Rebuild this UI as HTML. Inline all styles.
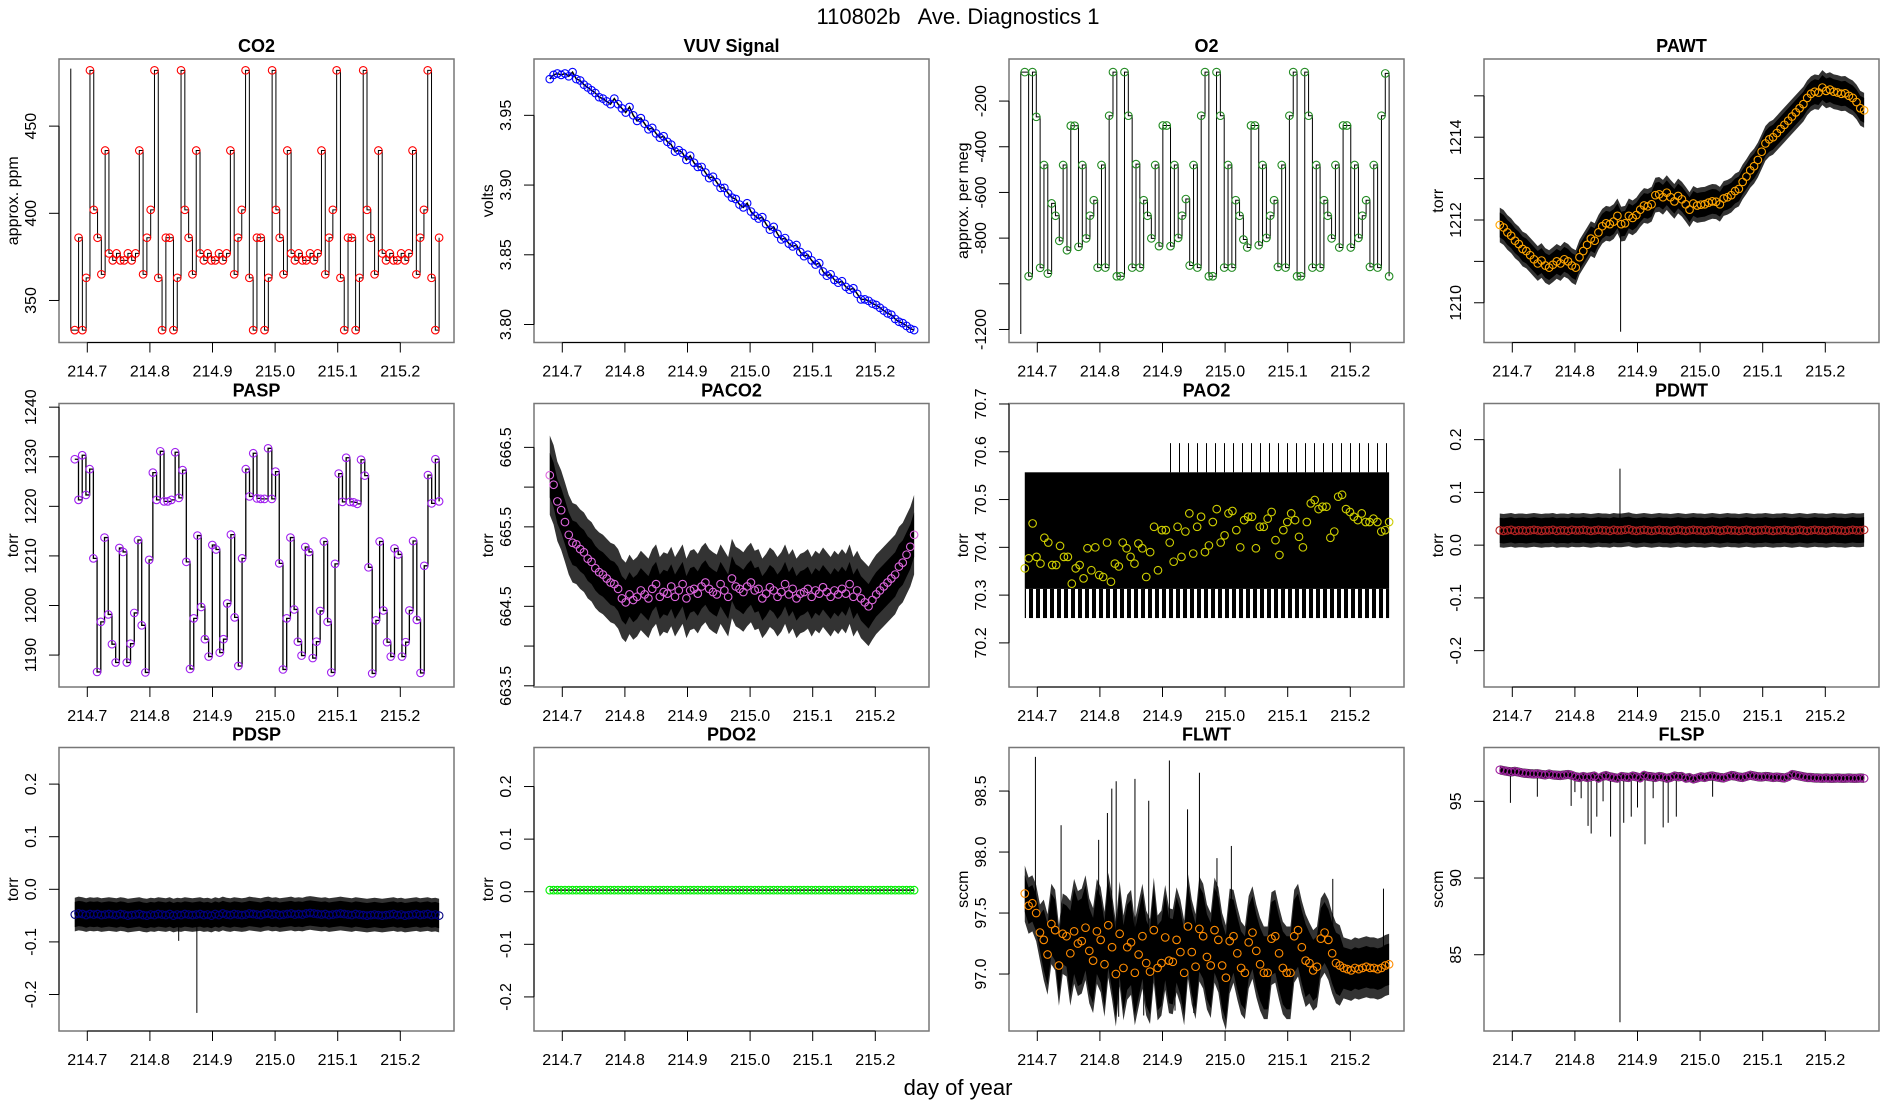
<!DOCTYPE html>
<html><head><meta charset="utf-8"><title>110802b Ave. Diagnostics 1</title>
<style>html,body{margin:0;padding:0;background:#fff}svg{display:block;font-family:"Liberation Sans",Arial,sans-serif}</style>
</head><body>
<svg id="chart" width="1900" height="1100" viewBox="0 0 1900 1100" xmlns="http://www.w3.org/2000/svg">
<text x="958" y="24" font-size="22" text-anchor="middle" xml:space="preserve">110802b   Ave. Diagnostics 1</text>
<text x="958" y="1095" font-size="22" text-anchor="middle">day of year</text>
</svg>
<script>
// ---------- data ----------
const dayStart = 214.680;
const dayEnd = 215.262;
const xTicks = [214.7, 214.8, 214.9, 215.0, 215.1, 215.2];
const xTickLabels = ["214.7","214.8","214.9","215.0","215.1","215.2"];

const co2Vals = [333,386,333,363,482,402,386,365,436,377,373,377,373,373,377,373,377,436,365,386,402,482,363,333,386,386,333,363,482,402,386,365,436,377,373,377,373,373,377,373,377,436,365,386,402,482,363,333,386,386,333,363,482,402,386,365,436,377,373,377,373,373,377,373,377,436,365,386,402,482,363,333,386,386,333,363,482,402,386,365,436,377,373,377,373,373,377,373,377,436,365,386,402,482,363,333,386];
const co2Start = 483;

const vuvVals = [3.976,3.979,3.980,3.979,3.980,3.978,3.981,3.976,3.975,3.972,3.970,3.968,3.966,3.963,3.962,3.960,3.958,3.962,3.958,3.955,3.952,3.956,3.950,3.946,3.948,3.944,3.940,3.941,3.937,3.934,3.935,3.931,3.929,3.924,3.925,3.923,3.918,3.921,3.916,3.913,3.913,3.909,3.905,3.906,3.902,3.898,3.898,3.894,3.891,3.890,3.886,3.884,3.887,3.881,3.878,3.876,3.877,3.872,3.868,3.870,3.865,3.861,3.862,3.858,3.856,3.857,3.852,3.849,3.850,3.846,3.843,3.844,3.838,3.835,3.836,3.832,3.830,3.831,3.827,3.825,3.826,3.822,3.818,3.818,3.817,3.815,3.814,3.812,3.810,3.808,3.807,3.804,3.802,3.801,3.799,3.797,3.796];

const o2Vals = [-73,-967,-73,-269,-930,-480,-955,-648,-702,-812,-480,-853,-308,-308,-838,-480,-801,-702,-634,-929,-480,-929,-264,-73,-967,-967,-73,-264,-929,-476,-929,-634,-702,-801,-480,-835,-307,-307,-835,-480,-799,-702,-629,-920,-480,-929,-264,-73,-967,-967,-73,-264,-929,-480,-929,-634,-702,-806,-841,-307,-307,-831,-480,-799,-702,-634,-926,-480,-929,-264,-73,-967,-967,-73,-264,-929,-480,-929,-634,-702,-801,-480,-841,-307,-307,-841,-480,-799,-702,-634,-926,-480,-929,-264,-79,-967];
const o2Start = -1220;

const pawtVals = [1211.88,1211.82,1211.7,1211.62,1211.5,1211.42,1211.3,1211.25,1211.15,1211.05,1210.95,1211.02,1210.9,1210.85,1210.92,1211.0,1210.95,1211.05,1211.0,1210.9,1210.85,1211.1,1211.25,1211.4,1211.55,1211.5,1211.7,1211.85,1211.92,1211.9,1211.96,1212.1,1211.9,1211.92,1212.1,1212.05,1212.12,1212.25,1212.35,1212.33,1212.38,1212.6,1212.62,1212.55,1212.66,1212.55,1212.45,1212.58,1212.5,1212.38,1212.25,1212.4,1212.35,1212.37,1212.38,1212.42,1212.45,1212.44,1212.38,1212.52,1212.55,1212.6,1212.7,1212.75,1212.92,1213.05,1213.2,1213.3,1213.45,1213.65,1213.85,1213.95,1214.0,1214.1,1214.2,1214.3,1214.4,1214.5,1214.6,1214.7,1214.8,1214.95,1215.05,1215.1,1215.08,1215.2,1215.12,1215.15,1215.1,1215.08,1215.05,1215.06,1215.0,1214.95,1214.85,1214.7,1214.65];
const pawtSpikeDays = [214.873];
const pawtSpikeVals = [1209.3];

const paspVals = [1229.5,1221.3,1230.3,1222.3,1227.5,1209.5,1186.6,1196.7,1213.7,1198.2,1192.2,1188.5,1211.6,1210.8,1188.5,1192.3,1198.5,1213.2,1196.0,1186.5,1209.2,1226.8,1221.3,1231.1,1221.0,1221.0,1221.3,1230.9,1221.7,1227.3,1208.8,1187.2,1197.4,1214.1,1199.7,1193.2,1189.7,1212.2,1211.3,1190.5,1193.2,1200.4,1214.3,1197.6,1187.8,1209.5,1227.5,1222.0,1230.7,1221.6,1221.5,1221.5,1231.7,1221.5,1227.0,1208.5,1187.1,1197.4,1213.7,1199.2,1192.7,1189.9,1211.8,1210.8,1189.4,1192.7,1198.9,1212.9,1196.7,1186.5,1208.4,1226.6,1220.9,1229.8,1220.9,1220.8,1220.5,1229.4,1226.2,1207.7,1186.3,1197.0,1212.9,1199.0,1192.6,1189.7,1211.5,1210.3,1189.7,1192.6,1199.0,1213.0,1197.1,1186.4,1208.0,1226.3,1220.6,1229.5,1221.0];

const paco2Vals = [666.15,666.03,665.82,665.71,665.56,665.4,665.3,665.28,665.22,665.18,665.1,665.06,664.98,664.93,664.9,664.85,664.8,664.78,664.72,664.6,664.55,664.65,664.58,664.62,664.7,664.65,664.6,664.72,664.78,664.62,664.68,664.66,664.75,664.62,664.7,664.78,664.6,664.7,664.72,664.66,664.75,664.8,664.72,664.68,664.65,664.78,664.7,664.62,664.85,664.75,664.72,664.68,664.75,664.8,664.7,664.72,664.6,664.66,664.74,664.7,664.62,664.68,664.78,664.65,664.72,664.6,664.66,664.68,664.72,664.62,664.7,664.66,664.74,664.68,664.62,664.7,664.65,664.72,664.66,664.78,664.62,664.7,664.6,664.55,664.5,664.58,664.65,664.7,664.75,664.8,664.85,664.9,665.0,665.05,665.15,665.25,665.4];

const pao2Vals = [70.356,70.377,70.45,70.38,70.366,70.42,70.41,70.363,70.363,70.403,70.38,70.38,70.324,70.356,70.363,70.335,70.398,70.352,70.40,70.342,70.338,70.41,70.328,70.366,70.36,70.41,70.398,70.38,70.366,70.408,70.398,70.338,70.39,70.443,70.352,70.436,70.436,70.41,70.37,70.443,70.38,70.433,70.471,70.387,70.443,70.464,70.39,70.404,70.453,70.48,70.41,70.425,70.471,70.476,70.436,70.40,70.457,70.464,70.464,70.398,70.443,70.443,70.46,70.474,70.415,70.384,70.436,70.453,70.471,70.457,70.422,70.40,70.453,70.492,70.499,70.48,70.485,70.485,70.42,70.433,70.506,70.51,70.48,70.474,70.464,70.457,70.471,70.453,70.453,70.46,70.453,70.433,70.436,70.453];
const pao2Levels = [70.252, 70.313, 70.557, 70.618];

const pdwtVals = [.028,.027,.028,.029,.027,.028,.028,.027,.028,.029,.028,.027,.028,.028,.029,.027,.028,.028,.027,.029,.028,.028,.029,.028,.027,.028,.029,.028,.028,.027,.029,.028,.028,.029,.030,.028,.027,.028,.029,.028,.027,.028,.029,.028,.028,.027,.028,.029,.028,.027,.028,.029,.028,.028,.027,.028,.029,.028,.027,.028,.029,.028,.028,.027,.028,.029,.028,.027,.028,.028,.029,.028,.027,.028,.028,.029,.028,.027,.028,.029,.028,.027,.028,.029,.028,.028,.027,.028,.029,.028,.028,.027,.028,.029,.028,.028,.029];
const pdwtSpikeDays = [214.872];
const pdwtSpikeVals = [0.145];

const pdspVals = [-.048,-.046,-.047,-.049,-.047,-.048,-.047,-.049,-.048,-.047,-.048,-.049,-.047,-.048,-.050,-.049,-.048,-.047,-.049,-.050,-.048,-.049,-.047,-.048,-.049,-.047,-.050,-.048,-.049,-.047,-.048,-.049,-.048,-.047,-.049,-.048,-.050,-.047,-.049,-.046,-.048,-.049,-.047,-.048,-.049,-.048,-.046,-.047,-.048,-.049,-.047,-.046,-.048,-.047,-.049,-.048,-.047,-.046,-.048,-.047,-.048,-.046,-.045,-.046,-.047,-.048,-.047,-.049,-.048,-.047,-.046,-.047,-.048,-.049,-.047,-.048,-.049,-.050,-.049,-.048,-.049,-.050,-.049,-.048,-.047,-.049,-.048,-.050,-.049,-.048,-.047,-.049,-.048,-.047,-.049,-.048,-.050];
const pdspSpikeDays = [214.875, 214.846];
const pdspSpikeVals = [-0.235, -0.098];

const pdo2Vals = [.003,.003,.003,.003,.003,.003,.003,.003,.003,.003,.003,.003,.003,.003,.003,.003,.003,.003,.003,.003,.003,.003,.003,.003,.003,.003,.003,.003,.003,.003,.003,.003,.003,.003,.003,.003,.003,.003,.003,.003,.003,.003,.003,.003,.003,.003,.003,.003,.003,.003,.003,.003,.003,.003,.003,.003,.003,.003,.003,.003,.003,.003,.003,.003,.003,.003,.003,.003,.003,.003,.003,.003,.003,.003,.003,.003,.003,.003,.003,.003,.003,.003,.003,.003,.003,.003,.003,.003,.003,.003,.003,.003,.003,.003,.003,.003,.003];

const flwtVals = [97.66,97.56,97.58,97.50,97.34,97.28,97.16,97.41,97.36,97.07,97.33,97.31,97.17,97.35,97.25,97.27,97.38,97.19,97.11,97.35,97.28,97.08,97.40,97.22,97.00,97.33,97.05,97.22,97.26,97.01,97.16,97.31,97.09,97.02,97.36,97.05,97.09,97.30,97.11,97.10,97.28,97.18,97.01,97.39,97.18,97.06,97.37,97.31,97.14,97.07,97.36,97.28,97.07,96.97,97.27,97.31,97.17,97.05,97.01,97.26,97.34,97.19,97.08,97.01,97.01,97.29,97.31,97.17,97.05,97.01,97.01,97.31,97.36,97.22,97.11,97.09,97.03,97.06,97.29,97.34,97.28,97.17,97.09,97.07,97.05,97.04,97.03,97.05,97.04,97.05,97.06,97.05,97.05,97.04,97.05,97.07,97.08];
const flwtSpread = [.15,.15,.15,.15,.15,.25,.25,.25,.25,.25,.25,.25,.35,.35,.35,.35,.35,.35,.35,.35,.35,.35,.35,.35,.35,.35,.35,.35,.35,.35,.35,.35,.35,.35,.35,.35,.35,.35,.35,.35,.35,.35,.35,.35,.35,.35,.35,.35,.35,.35,.35,.35,.35,.35,.35,.30,.30,.30,.30,.30,.30,.30,.30,.30,.30,.30,.30,.30,.30,.30,.30,.30,.30,.30,.30,.25,.25,.25,.25,.25,.25,.25,.25,.25,.17,.17,.17,.17,.17,.17,.17,.17,.17,.17,.17,.17,.17];
const flwtSpikeDays = [214.697,214.738,214.798,214.812,214.819,214.826,214.856,214.878,214.911,214.94,214.959,214.987,215.01,215.172,215.253,214.83,214.87,214.92,214.95];
const flwtSpikeVals = [98.78,98.22,98.1,98.32,98.52,98.58,98.6,98.42,98.75,98.35,98.65,97.95,98.05,97.78,97.7,96.65,96.66,96.7,96.68];

const flspVals = [97.05,97.0,96.95,96.92,96.95,96.9,96.85,96.82,96.8,96.78,96.8,96.75,96.72,96.78,96.72,96.7,96.68,96.72,96.75,96.7,96.6,96.55,96.62,96.55,96.6,96.65,96.5,96.62,96.68,96.6,96.55,96.5,96.62,96.58,96.55,96.65,96.6,96.52,96.7,96.62,96.6,96.55,96.62,96.58,96.5,96.55,96.65,96.6,96.62,96.5,96.55,96.45,96.52,96.6,96.55,96.62,96.65,96.6,96.55,96.52,96.6,96.68,96.65,96.58,96.55,96.62,96.7,96.65,96.6,96.58,96.62,96.6,96.55,96.58,96.55,96.52,96.6,96.75,96.7,96.65,96.6,96.55,96.55,96.52,96.52,96.5,96.52,96.5,96.5,96.52,96.5,96.5,96.52,96.5,96.5,96.52,96.5];
const flspSpikeDays = [214.697,214.74,214.794,214.80,214.81,214.821,214.826,214.835,214.845,214.857,214.872,214.878,214.89,214.9,214.912,214.925,214.941,214.949,214.962,215.02];
const flspSpikeVals = [94.9,95.3,94.7,95.6,95.2,93.4,92.9,94.0,95.0,92.7,80.6,93.6,94.0,94.6,92.2,95.2,93.3,93.6,94.0,95.3];

// ---------- layout ----------
const colLeft = [59, 534, 1009, 1484];
const rowTop = [59, 403.5, 747.5];
const PW = 395, PH = 283.5;
const NS = 'http://www.w3.org/2000/svg';
const svg = document.getElementById('chart');
function mk(tag, attrs, parent) {
  const e = document.createElementNS(NS, tag);
  for (const k in attrs) e.setAttribute(k, attrs[k]);
  (parent || svg).appendChild(e);
  return e;
}
function daysFor(vals) {
  const n = vals.length;
  return vals.map((v, i) => dayStart + i * (dayEnd - dayStart) / (n - 1));
}

const panels = [
  {key:'co2', title:'CO2', ylab:'approx. ppm', c:0, r:0, yTop:488.5, yBot:325.9, ticks:[350,400,450], labels:['350','400','450'], kind:'step', vals:co2Vals, start:co2Start, col:'#ff0000'},
  {key:'vuv', title:'VUV Signal', ylab:'volts', c:1, r:0, yTop:3.9904, yBot:3.7871, ticks:[3.80,3.85,3.90,3.95], labels:['3.80','3.85','3.90','3.95'], kind:'line', vals:vuvVals, col:'#0000ff'},
  {key:'o2', title:'O2', ylab:'approx. per meg', c:2, r:0, yTop:-15.8, yBot:-1257, ticks:[-1200,-1000,-800,-600,-400,-200], labels:['-1200','','-800','-600','-400','-200'], kind:'step', vals:o2Vals, start:o2Start, col:'#228b22'},
  {key:'pawt', title:'PAWT', ylab:'torr', c:3, r:0, yTop:1215.89, yBot:1209.04, ticks:[1210,1211,1212,1213,1214,1215], labels:['1210','','1212','','1214',''], kind:'band', vals:pawtVals, core:0.3, fringe:0.42, sd:pawtSpikeDays, sv:pawtSpikeVals, col:'#ffa500'},
  {key:'pasp', title:'PASP', ylab:'torr', c:0, r:1, yTop:1240.74, yBot:1183.56, ticks:[1190,1200,1210,1220,1230,1240], labels:['1190','1200','1210','1220','1230','1240'], kind:'stepline', vals:paspVals, col:'#a020f0'},
  {key:'paco2', title:'PACO2', ylab:'torr', c:1, r:1, yTop:667.052, yBot:663.485, ticks:[663.5,664,664.5,665,665.5,666,666.5], labels:['663.5','','664.5','','665.5','','666.5'], kind:'band', vals:paco2Vals, core:0.28, fringe:0.5, col:'#dd66dd'},
  {key:'pao2', title:'PAO2', ylab:'torr', c:2, r:1, yTop:70.701, yBot:70.1077, ticks:[70.2,70.3,70.4,70.5,70.6,70.7], labels:['70.2','70.3','70.4','70.5','70.6','70.7'], kind:'levels', vals:pao2Vals, levels:pao2Levels, col:'#cdcd00'},
  {key:'pdwt', title:'PDWT', ylab:'torr', c:3, r:1, yTop:0.2685, yBot:-0.2689, ticks:[-0.2,-0.1,0,0.1,0.2], labels:['-0.2','-0.1','0.0','0.1','0.2'], kind:'band', vals:pdwtVals, core:0.024, fringe:0.032, sd:pdwtSpikeDays, sv:pdwtSpikeVals, col:'#b22222'},
  {key:'pdsp', title:'PDSP', ylab:'torr', c:0, r:2, yTop:0.2696, yBot:-0.2694, ticks:[-0.2,-0.1,0,0.1,0.2], labels:['-0.2','-0.1','0.0','0.1','0.2'], kind:'band', vals:pdspVals, core:0.024, fringe:0.032, sd:pdspSpikeDays, sv:pdspSpikeVals, col:'#000080'},
  {key:'pdo2', title:'PDO2', ylab:'torr', c:1, r:2, yTop:0.2742, yBot:-0.2648, ticks:[-0.2,-0.1,0,0.1,0.2], labels:['-0.2','-0.1','0.0','0.1','0.2'], kind:'line', vals:pdo2Vals, col:'#00ee00'},
  {key:'flwt', title:'FLWT', ylab:'sccm', c:2, r:2, yTop:98.857, yBot:96.533, ticks:[97,97.5,98,98.5], labels:['97.0','97.5','98.0','98.5'], kind:'band', vals:flwtVals, core:flwtSpread, fringe:0.08, sd:flwtSpikeDays, sv:flwtSpikeVals, col:'#ff8c00'},
  {key:'flsp', title:'FLSP', ylab:'sccm', c:3, r:2, yTop:98.507, yBot:80.03, ticks:[85,90,95], labels:['85','90','95'], kind:'band', vals:flspVals, core:0.15, fringe:0.3, sd:flspSpikeDays, sv:flspSpikeVals, col:'#a020a0'}
];

panels.forEach(p => {
  const L = colLeft[p.c], T = rowTop[p.r];
  const xs = d => L + 28.3 + (d - 214.7) * 626;
  const ys = v => T + (p.yTop - v) / (p.yTop - p.yBot) * PH;
  const g = mk('g', {});
  
  
  const clipId = 'clip-' + p.key;
  const cp = mk('clipPath', {id: clipId}, g);
  mk('rect', {x: L, y: T, width: PW, height: PH}, cp);
  const plot = mk('g', {'clip-path': 'url(#' + clipId + ')'}, g);
  
  
  const days = daysFor(p.vals);
  const hwAt = (h, i) => Array.isArray(h) ? h[i] : h;

  if (p.kind === 'step' || p.kind === 'stepline') {
    let d = '';
    if (p.start !== undefined) d = 'M' + (xs(days[0]) - 4) + ',' + ys(p.start) + ' V' + ys(p.vals[0]) + ' H' + xs(days[0]);
    else d = 'M' + xs(days[0]) + ',' + ys(p.vals[0]);
    for (let i = 1; i < p.vals.length; i++) d += ' H' + xs(days[i]) + ' V' + ys(p.vals[i]);
    const path = mk('path', {d: d, fill: 'none', stroke: '#000', 'stroke-width': p.kind === 'stepline' ? 1.3 : 1}, plot);
    
    
  } else if (p.kind === 'line') {
    const pts = p.vals.map((v, i) => xs(days[i]) + ',' + ys(v)).join(' ');
    const line = mk('polyline', {points: pts, fill: 'none', stroke: '#000', 'stroke-width': 1.5}, plot);
    
    
  } else if (p.kind === 'band') {
    const mkPoly = (extra, fill, name) => {
      const up = p.vals.map((v, i) => xs(days[i]) + ',' + ys(v + hwAt(p.core, i) + extra));
      const lo = p.vals.map((v, i) => xs(days[i]) + ',' + ys(v - hwAt(p.core, i) - extra)).reverse();
      const poly = mk('polygon', {points: up.concat(lo).join(' '), fill: fill}, plot);
      
      
    };
    const fr = p.fringe - (Array.isArray(p.core) ? 0 : p.core);
    mkPoly(Array.isArray(p.core) ? p.fringe : Math.max(fr, 0), '#333', p.key + '-noise-fringe');
    mkPoly(0, '#000', p.key + '-noise-band');
    if (p.sd) {
      p.sd.forEach((sd, k) => {
        let idx = 0, best = 1e9;
        days.forEach((dd, i) => { if (Math.abs(dd - sd) < best) { best = Math.abs(dd - sd); idx = i; } });
        const s = mk('line', {x1: xs(sd), x2: xs(sd), y1: ys(p.vals[idx]), y2: ys(p.sv[k]), stroke: '#000', 'stroke-width': 1}, plot);
        
        
      });
    }
  } else if (p.kind === 'levels') {
    const lv = p.levels;
    const x0 = xs(days[0]), x1 = xs(days[days.length - 1]);
    const defs = mk('defs', {}, g);
    const pat = mk('pattern', {id: 'stripe-' + p.key, width: 7, height: 10, patternUnits: 'userSpaceOnUse'}, defs);
    mk('rect', {x: 0, y: 0, width: 4, height: 10, fill: '#000'}, pat);
    const pat2 = mk('pattern', {id: 'sparse-' + p.key, width: 9, height: 10, patternUnits: 'userSpaceOnUse'}, defs);
    mk('rect', {x: 0, y: 0, width: 1, height: 10, fill: '#000'}, pat2);
    const f1 = mk('rect', {x: x0, y: ys(lv[1]), width: x1 - x0, height: ys(lv[0]) - ys(lv[1]), fill: 'url(#stripe-' + p.key + ')'}, plot);
    
    
    const xm = xs(214.9);
    const f2 = mk('rect', {x: xm, y: ys(lv[3]), width: x1 - xm, height: ys(lv[2]) - ys(lv[3]), fill: 'url(#sparse-' + p.key + ')'}, plot);
    
    
    const core = mk('rect', {x: x0, y: ys(lv[2]), width: x1 - x0, height: ys(lv[1]) - ys(lv[2]), fill: '#000'}, plot);
    
    
  }

  p.vals.forEach((v, i) => {
    const c = mk('circle', {cx: xs(days[i]), cy: ys(v), r: 3.8, fill: 'none', stroke: p.col, 'stroke-width': 1.1}, plot);
    
    
  });

  const box = mk('rect', {x: L, y: T, width: PW, height: PH, fill: 'none', stroke: '#777', 'stroke-width': 1.5}, g);
  
  

  const xa = mk('g', {}, g);
  
  
  mk('line', {x1: xs(xTicks[0]), x2: xs(xTicks[xTicks.length - 1]), y1: T + PH, y2: T + PH, stroke: '#000', 'stroke-width': 1}, xa);
  xTicks.forEach((t, k) => {
    mk('line', {x1: xs(t), x2: xs(t), y1: T + PH, y2: T + PH + 10, stroke: '#000', 'stroke-width': 1}, xa);
    const tl = mk('text', {x: xs(t), y: T + PH + 34, 'font-size': 16, 'text-anchor': 'middle'}, xa);
    tl.textContent = xTickLabels[k];
    
    
  });

  const ya = mk('g', {}, g);
  
  
  mk('line', {x1: L, x2: L, y1: ys(p.ticks[0]), y2: ys(p.ticks[p.ticks.length - 1]), stroke: '#000', 'stroke-width': 1}, ya);
  p.ticks.forEach((t, k) => {
    const y = ys(t);
    mk('line', {x1: L - 10, x2: L, y1: y, y2: y, stroke: '#000', 'stroke-width': 1}, ya);
    if (p.labels[k]) {
      const tl = mk('text', {x: L - 23, y: y, 'font-size': 16, 'text-anchor': 'middle', transform: 'rotate(-90 ' + (L - 23) + ' ' + y + ')'}, ya);
      tl.textContent = p.labels[k];
      
      
    }
  });
  const yl = mk('text', {x: L - 41, y: T + PH / 2, 'font-size': 16, 'text-anchor': 'middle', transform: 'rotate(-90 ' + (L - 41) + ' ' + (T + PH / 2) + ')'}, g);
  yl.textContent = p.ylab;
  
  

  const tt = mk('text', {x: L + PW / 2, y: T - 7, 'font-size': 18, 'font-weight': 'bold', 'text-anchor': 'middle'}, g);
  tt.textContent = p.title;
  
  
});
</script>
</body></html>
